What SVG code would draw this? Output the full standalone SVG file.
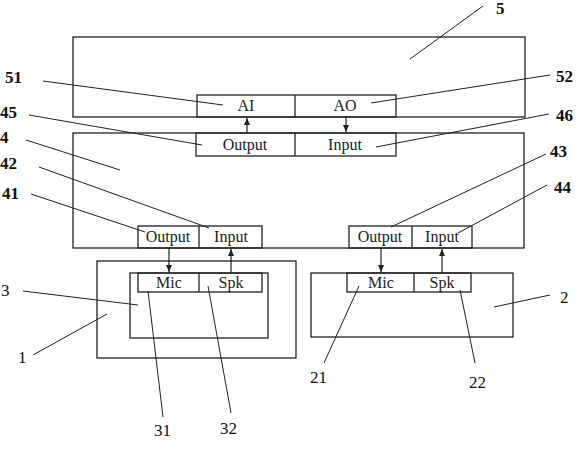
<svg xmlns="http://www.w3.org/2000/svg" width="578" height="450" viewBox="0 0 578 450">
<style>
.b{fill:none;stroke:#222;stroke-width:1.3}
.l{fill:none;stroke:#222;stroke-width:1}
.a{fill:none;stroke:#222;stroke-width:1.2;marker-end:url(#ah)}
.p{font-family:"Liberation Serif","DejaVu Serif",serif;font-size:16px;fill:#222;text-anchor:middle}
.n{font-family:"Liberation Serif","DejaVu Serif",serif;font-size:17px;fill:#111}
.nb{font-family:"Liberation Serif","DejaVu Serif",serif;font-size:17px;font-weight:bold;fill:#111}
</style>
<defs>
<marker id="ah" markerWidth="8" markerHeight="8" refX="7" refY="3" orient="auto" markerUnits="userSpaceOnUse">
<path d="M0,0 L7,3 L0,6 Z" fill="#222"/>
</marker>
</defs>
<rect width="578" height="450" fill="#fff"/>
<g id="node5">
<rect class="b" x="73" y="37" width="452" height="80"/>
<rect class="b" x="197" y="95" width="199" height="22"/>
<line class="b" x1="295" y1="95" x2="295" y2="117"/>
<text class="p" x="246" y="111">AI</text>
<text class="p" x="345" y="111">AO</text>
</g>
<g id="node4">
<rect class="b" x="73" y="133" width="451" height="115"/>
<rect class="b" x="196" y="133" width="200" height="23"/>
<line class="b" x1="295" y1="133" x2="295" y2="156"/>
<text class="p" x="245" y="150">Output</text>
<text class="p" x="345" y="150">Input</text>
<rect class="b" x="138" y="226" width="124" height="22"/>
<line class="b" x1="199" y1="226" x2="199" y2="248"/>
<text class="p" x="168" y="242">Output</text>
<text class="p" x="231" y="242">Input</text>
<rect class="b" x="349" y="226" width="123" height="22"/>
<line class="b" x1="412" y1="226" x2="412" y2="248"/>
<text class="p" x="380" y="242">Output</text>
<text class="p" x="442" y="242">Input</text>
</g>
<g id="node1">
<rect class="b" x="97" y="261" width="199" height="97"/>
</g>
<g id="node3">
<rect class="b" x="130" y="273" width="138" height="65"/>
<rect class="b" x="138" y="273" width="124" height="19"/>
<line class="b" x1="199" y1="273" x2="199" y2="292"/>
<text class="p" x="169" y="288">Mic</text>
<text class="p" x="231" y="288">Spk</text>
</g>
<g id="node2">
<rect class="b" x="311" y="273" width="202" height="64"/>
<rect class="b" x="347" y="273" width="124" height="19"/>
<line class="b" x1="414" y1="273" x2="414" y2="292"/>
<text class="p" x="381" y="288">Mic</text>
<text class="p" x="442" y="288">Spk</text>
</g>
<g id="connectors">
<line class="a" x1="247" y1="133" x2="247" y2="118"/>
<line class="a" x1="346" y1="117" x2="346" y2="132"/>
<line class="a" x1="169" y1="248" x2="169" y2="272"/>
<line class="a" x1="231" y1="273" x2="231" y2="249"/>
<line class="a" x1="381" y1="248" x2="381" y2="272"/>
<line class="a" x1="442" y1="273" x2="442" y2="249"/>
</g>
<g id="leaders">
<line class="l" x1="483" y1="6" x2="410" y2="59"/>
<line class="l" x1="43" y1="81" x2="223" y2="105"/>
<line class="l" x1="550" y1="75" x2="371" y2="103"/>
<line class="l" x1="29" y1="115" x2="202" y2="145"/>
<line class="l" x1="549" y1="114" x2="376" y2="147"/>
<line class="l" x1="26" y1="140" x2="120" y2="170"/>
<line class="l" x1="39" y1="167" x2="209" y2="228"/>
<line class="l" x1="31" y1="194" x2="145" y2="232"/>
<line class="l" x1="546" y1="154" x2="391" y2="227"/>
<line class="l" x1="547" y1="185" x2="458" y2="233"/>
<line class="l" x1="23" y1="291" x2="138" y2="305"/>
<line class="l" x1="33" y1="355" x2="107" y2="314"/>
<line class="l" x1="163" y1="417" x2="148" y2="291"/>
<line class="l" x1="231" y1="413" x2="208" y2="286"/>
<line class="l" x1="550" y1="295" x2="494" y2="307"/>
<line class="l" x1="324" y1="363" x2="359" y2="286"/>
<line class="l" x1="475" y1="363" x2="460" y2="290"/>
</g>
<g id="labels">
<text class="nb" x="496" y="14">5</text>
<text class="nb" x="5" y="83">51</text>
<text class="nb" x="556" y="82">52</text>
<text class="nb" x="0" y="118">45</text>
<text class="nb" x="556" y="121">46</text>
<text class="nb" x="0" y="143">4</text>
<text class="nb" x="0" y="169">42</text>
<text class="nb" x="2" y="199">41</text>
<text class="nb" x="550" y="157">43</text>
<text class="nb" x="554" y="193">44</text>
<text class="n" x="1" y="296">3</text>
<text class="n" x="18" y="363">1</text>
<text class="n" x="154" y="436">31</text>
<text class="n" x="220" y="434">32</text>
<text class="n" x="560" y="303">2</text>
<text class="n" x="310" y="383">21</text>
<text class="n" x="469" y="388">22</text>
</g>
</svg>
